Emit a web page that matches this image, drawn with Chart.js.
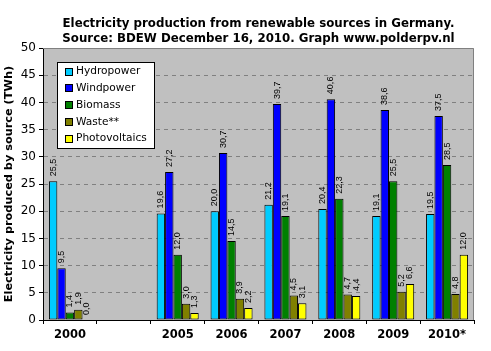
<!DOCTYPE html>
<html><head><meta charset="utf-8">
<script src="https://cdn.jsdelivr.net/npm/chart.js@4.4.0/dist/chart.umd.min.js"></script>
<style>html,body{margin:0;padding:0;background:#fff}#wrap{width:491px;height:351px}</style>
</head><body><div id="wrap"><canvas id="c" width="491" height="351"></canvas></div>
<script>
const categories = ['2000', '', '2005', '2006', '2007', '2008', '2009', '2010*'];
const hydropower = [25.5, null, 19.6, 20.0, 21.2, 20.4, 19.1, 19.5];
const windpower = [9.5, null, 27.2, 30.7, 39.7, 40.6, 38.6, 37.5];
const biomass = [1.4, null, 12.0, 14.5, 19.1, 22.3, 25.5, 28.5];
const waste = [1.9, null, 3.0, 3.9, 4.5, 4.7, 5.2, 4.8];
const photovoltaics = [0.0, null, 1.3, 2.2, 3.1, 4.4, 6.6, 12.0];
const seriesNames = ['Hydropower', 'Windpower', 'Biomass', 'Waste**', 'Photovoltaics'];
const seriesColors = ['#00CCFF', '#0000FF', '#008000', '#808000', '#FFFF00'];
const titleLines = ['Electricity production from renewable sources in Germany.', 'Source: BDEW December 16, 2010. Graph www.polderpv.nl'];
const yTitle = 'Electricity produced by source (TWh)';

const series = [hydropower, windpower, biomass, waste, photovoltaics];

const bgPlugin = {
  id: 'bg',
  beforeDraw(chart) {
    const {ctx, chartArea: a} = chart;
    ctx.save();
    ctx.fillStyle = '#C0C0C0';
    ctx.fillRect(a.left, a.top, a.right - a.left, a.bottom - a.top);
    ctx.restore();
  },
  afterDraw(chart) {
    const {ctx, chartArea: a} = chart;
    ctx.save();
    ctx.strokeStyle = '#808080';
    ctx.lineWidth = 1;
    ctx.beginPath();
    ctx.moveTo(a.left, a.top + 0.5);
    ctx.lineTo(a.right - 0.5, a.top + 0.5);
    ctx.lineTo(a.right - 0.5, a.bottom);
    ctx.stroke();
    ctx.fillStyle = '#000';
    ctx.font = '9px "Liberation Sans", Arial, sans-serif';
    ctx.textAlign = 'left';
    ctx.textBaseline = 'middle';
    chart.data.datasets.forEach((ds, di) => {
      const meta = chart.getDatasetMeta(di);
      meta.data.forEach((bar, i) => {
        const v = ds.data[i];
        if (v === null || v === undefined) return;
        const txt = v.toFixed(1).replace('.', ',');
        ctx.save();
        ctx.translate(bar.x, bar.y - 5);
        ctx.rotate(-Math.PI / 2);
        ctx.fillText(txt, 0, 0);
        ctx.restore();
      });
    });
    ctx.font = 'bold 11.8px "DejaVu Sans", Verdana, sans-serif';
    ctx.textAlign = 'center';
    ctx.textBaseline = 'alphabetic';
    const cx = (a.left + a.right) / 2;
    ctx.fillText(titleLines[0], cx, 27);
    ctx.fillText(titleLines[1], cx, 42);
    const lx = 57, ly = 62, lw = 98, lh = 87;
    ctx.fillStyle = '#fff';
    ctx.fillRect(lx, ly, lw, lh);
    ctx.strokeStyle = '#000';
    ctx.strokeRect(lx + 0.5, ly + 0.5, lw - 1, lh - 1);
    ctx.font = '10.6px "DejaVu Sans", Verdana, sans-serif';
    ctx.textAlign = 'left';
    ctx.textBaseline = 'middle';
    chart.data.datasets.forEach((ds, di) => {
      const y = 71.5 + di * 16.8;
      ctx.fillStyle = ds.backgroundColor;
      ctx.fillRect(65, Math.round(y) - 4, 8, 8);
      ctx.strokeStyle = '#000';
      ctx.strokeRect(65.5, Math.round(y) - 3.5, 7, 7);
      ctx.fillStyle = '#000';
      ctx.fillText(ds.label, 76, y);
    });
    ctx.restore();
  }
};

new Chart(document.getElementById('c'), {
  type: 'bar',
  data: {
    labels: categories,
    datasets: series.map((d, i) => ({
      label: seriesNames[i],
      data: d,
      backgroundColor: seriesColors[i],
      borderColor: '#000',
      borderWidth: 1,
      borderSkipped: false,
      categoryPercentage: 0.78,
      barPercentage: 1.0
    }))
  },
  options: {
    responsive: false,
    animation: false,
    devicePixelRatio: 1,
    layout: { padding: { left: 0, right: 17, top: 48, bottom: 0 } },
    plugins: { legend: { display: false }, title: { display: false }, tooltip: { enabled: false } },
    scales: {
      x: {
        offset: true,
        grid: { offset: true, drawOnChartArea: false, drawTicks: true, tickLength: 4, color: '#000', tickColor: '#000' },
        border: { color: '#000', width: 1 },
        ticks: { color: '#000', font: { family: '"DejaVu Sans", Verdana, sans-serif', size: 11.5, weight: 'bold' }, padding: 4, maxRotation: 0, autoSkip: false },
        afterFit(s) { s.height = 31; }
      },
      y: {
        min: 0, max: 50,
        ticks: { stepSize: 5, color: '#000', font: { family: '"DejaVu Sans", Verdana, sans-serif', size: 12 }, padding: 3 },
        grid: {
          color: (c) => (c.tick && (c.tick.value === 0 || c.tick.value === 50)) ? 'rgba(0,0,0,0)' : '#808080',
          tickColor: '#000', tickLength: 4, drawTicks: true
        },
        border: { color: '#000', width: 1, dash: [4, 4] },
        title: { display: true, text: yTitle, color: '#000', font: { family: '"DejaVu Sans", Verdana, sans-serif', size: 11.3, weight: 'bold' }, padding: { top: 2, bottom: 0 } },
        afterFit(s) { s.width = 43; }
      }
    }
  },
  plugins: [bgPlugin]
});
</script></body></html>
